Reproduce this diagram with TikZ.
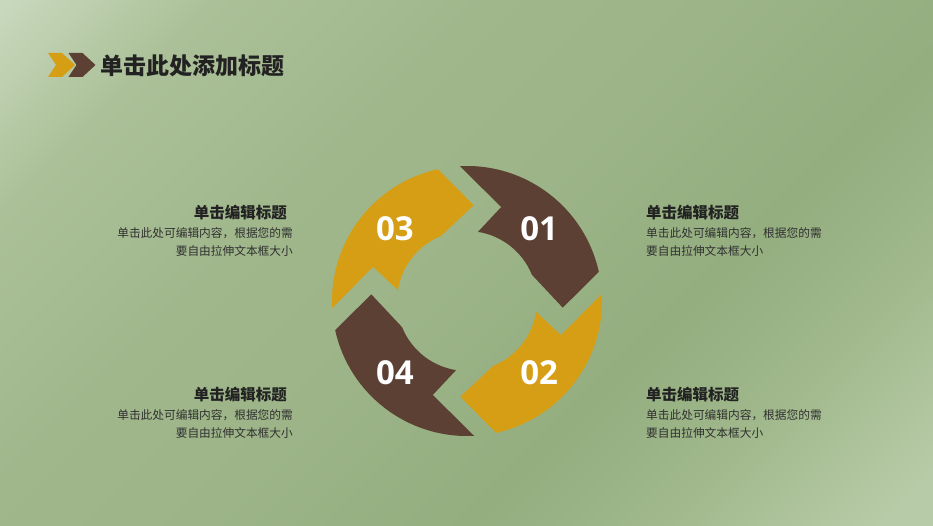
\documentclass[tikz,border=0pt]{standalone}
\usepackage{fontspec}
\newfontfamily\cjk{Noto Sans CJK SC}
\newfontfamily\numfont{Open Sans}
\definecolor{brownc}{HTML}{5C4033}
\definecolor{goldc}{HTML}{D69E14}
\definecolor{headc}{HTML}{222222}
\definecolor{bodyc}{HTML}{303030}
\definecolor{bgA}{HTML}{C8D8BC}
\definecolor{bgB}{HTML}{ABC098}
\definecolor{bgC}{HTML}{A0B78C}
\definecolor{bgD}{HTML}{9CB487}
\definecolor{bgE}{HTML}{94AE80}
\definecolor{bgF}{HTML}{A0B88B}
\definecolor{bgG}{HTML}{B8CBA8}
\pgfdeclarehorizontalshading{bgshade}{100bp}{color(0bp)=(bgA); color(15bp)=(bgA); color(25bp)=(bgB); color(38bp)=(bgC); color(50bp)=(bgD); color(63bp)=(bgE); color(72bp)=(bgF); color(83bp)=(bgG); color(100bp)=(bgG)}
\begin{document}
\begin{tikzpicture}[x=1pt, y=1pt,
	head/.style={font=\fontsize{15.5}{18}\selectfont\cjk\bfseries, text=headc, inner sep=0pt},
	body/.style={font=\fontsize{11.7}{18}\selectfont\cjk, text=bodyc, inner sep=0pt},
	num/.style={font=\fontsize{33}{36}\selectfont\numfont\bfseries, text=white, inner sep=0pt}]
	\shade[shading=bgshade, shading angle=-45] (0,0) rectangle (933,525);
	\useasboundingbox (0,0) rectangle (933,525);
	% title
	\foreach \xo/\col in {48/goldc, 68.5/brownc}
		\fill[\col] (\xo,472) -- ++(14,0) -- ++(13,-12) -- ++(-13,-12) -- ++(-14,0) -- ++(8,12) -- cycle;
	\node[anchor=west, inner sep=0pt, text=headc, font=\fontsize{23}{26}\selectfont\cjk\bfseries] (title) at (100,459) {单击此处添加标题};
	% ring
	\coordinate (O) at (467,224);
	\foreach \r/\c/\n in {0/brownc/01, -90/goldc/02, 180/brownc/04, 90/goldc/03}{
		\fill[\c, shift={(O)}, rotate=\r] (93:135pt) arc[start angle=93, end angle=12.5, radius=135pt] -- (-4:96pt) -- (22:70pt) arc[start angle=22, end angle=81, radius=70pt] -- (70:100pt) -- cycle;
		\node[num] (n\n) at ([shift={(\r+45:102pt)}]O) {\n};
	}
	% texts
	\foreach \y/\k in {312/1, 130/2}{
		\node[head, anchor=west] (hr\k) at (646,\y) {单击编辑标题};
		\node[body, anchor=west, align=left] (dr\k) at (646,\y-29) {单击此处可编辑内容，根据您的需\\要自由拉伸文本框大小};
		\node[head, anchor=east] (hl\k) at (287,\y) {单击编辑标题};
		\node[body, anchor=east, align=right] (dl\k) at (293,\y-29) {单击此处可编辑内容，根据您的需\\要自由拉伸文本框大小};
	}
\end{tikzpicture}
\end{document}
